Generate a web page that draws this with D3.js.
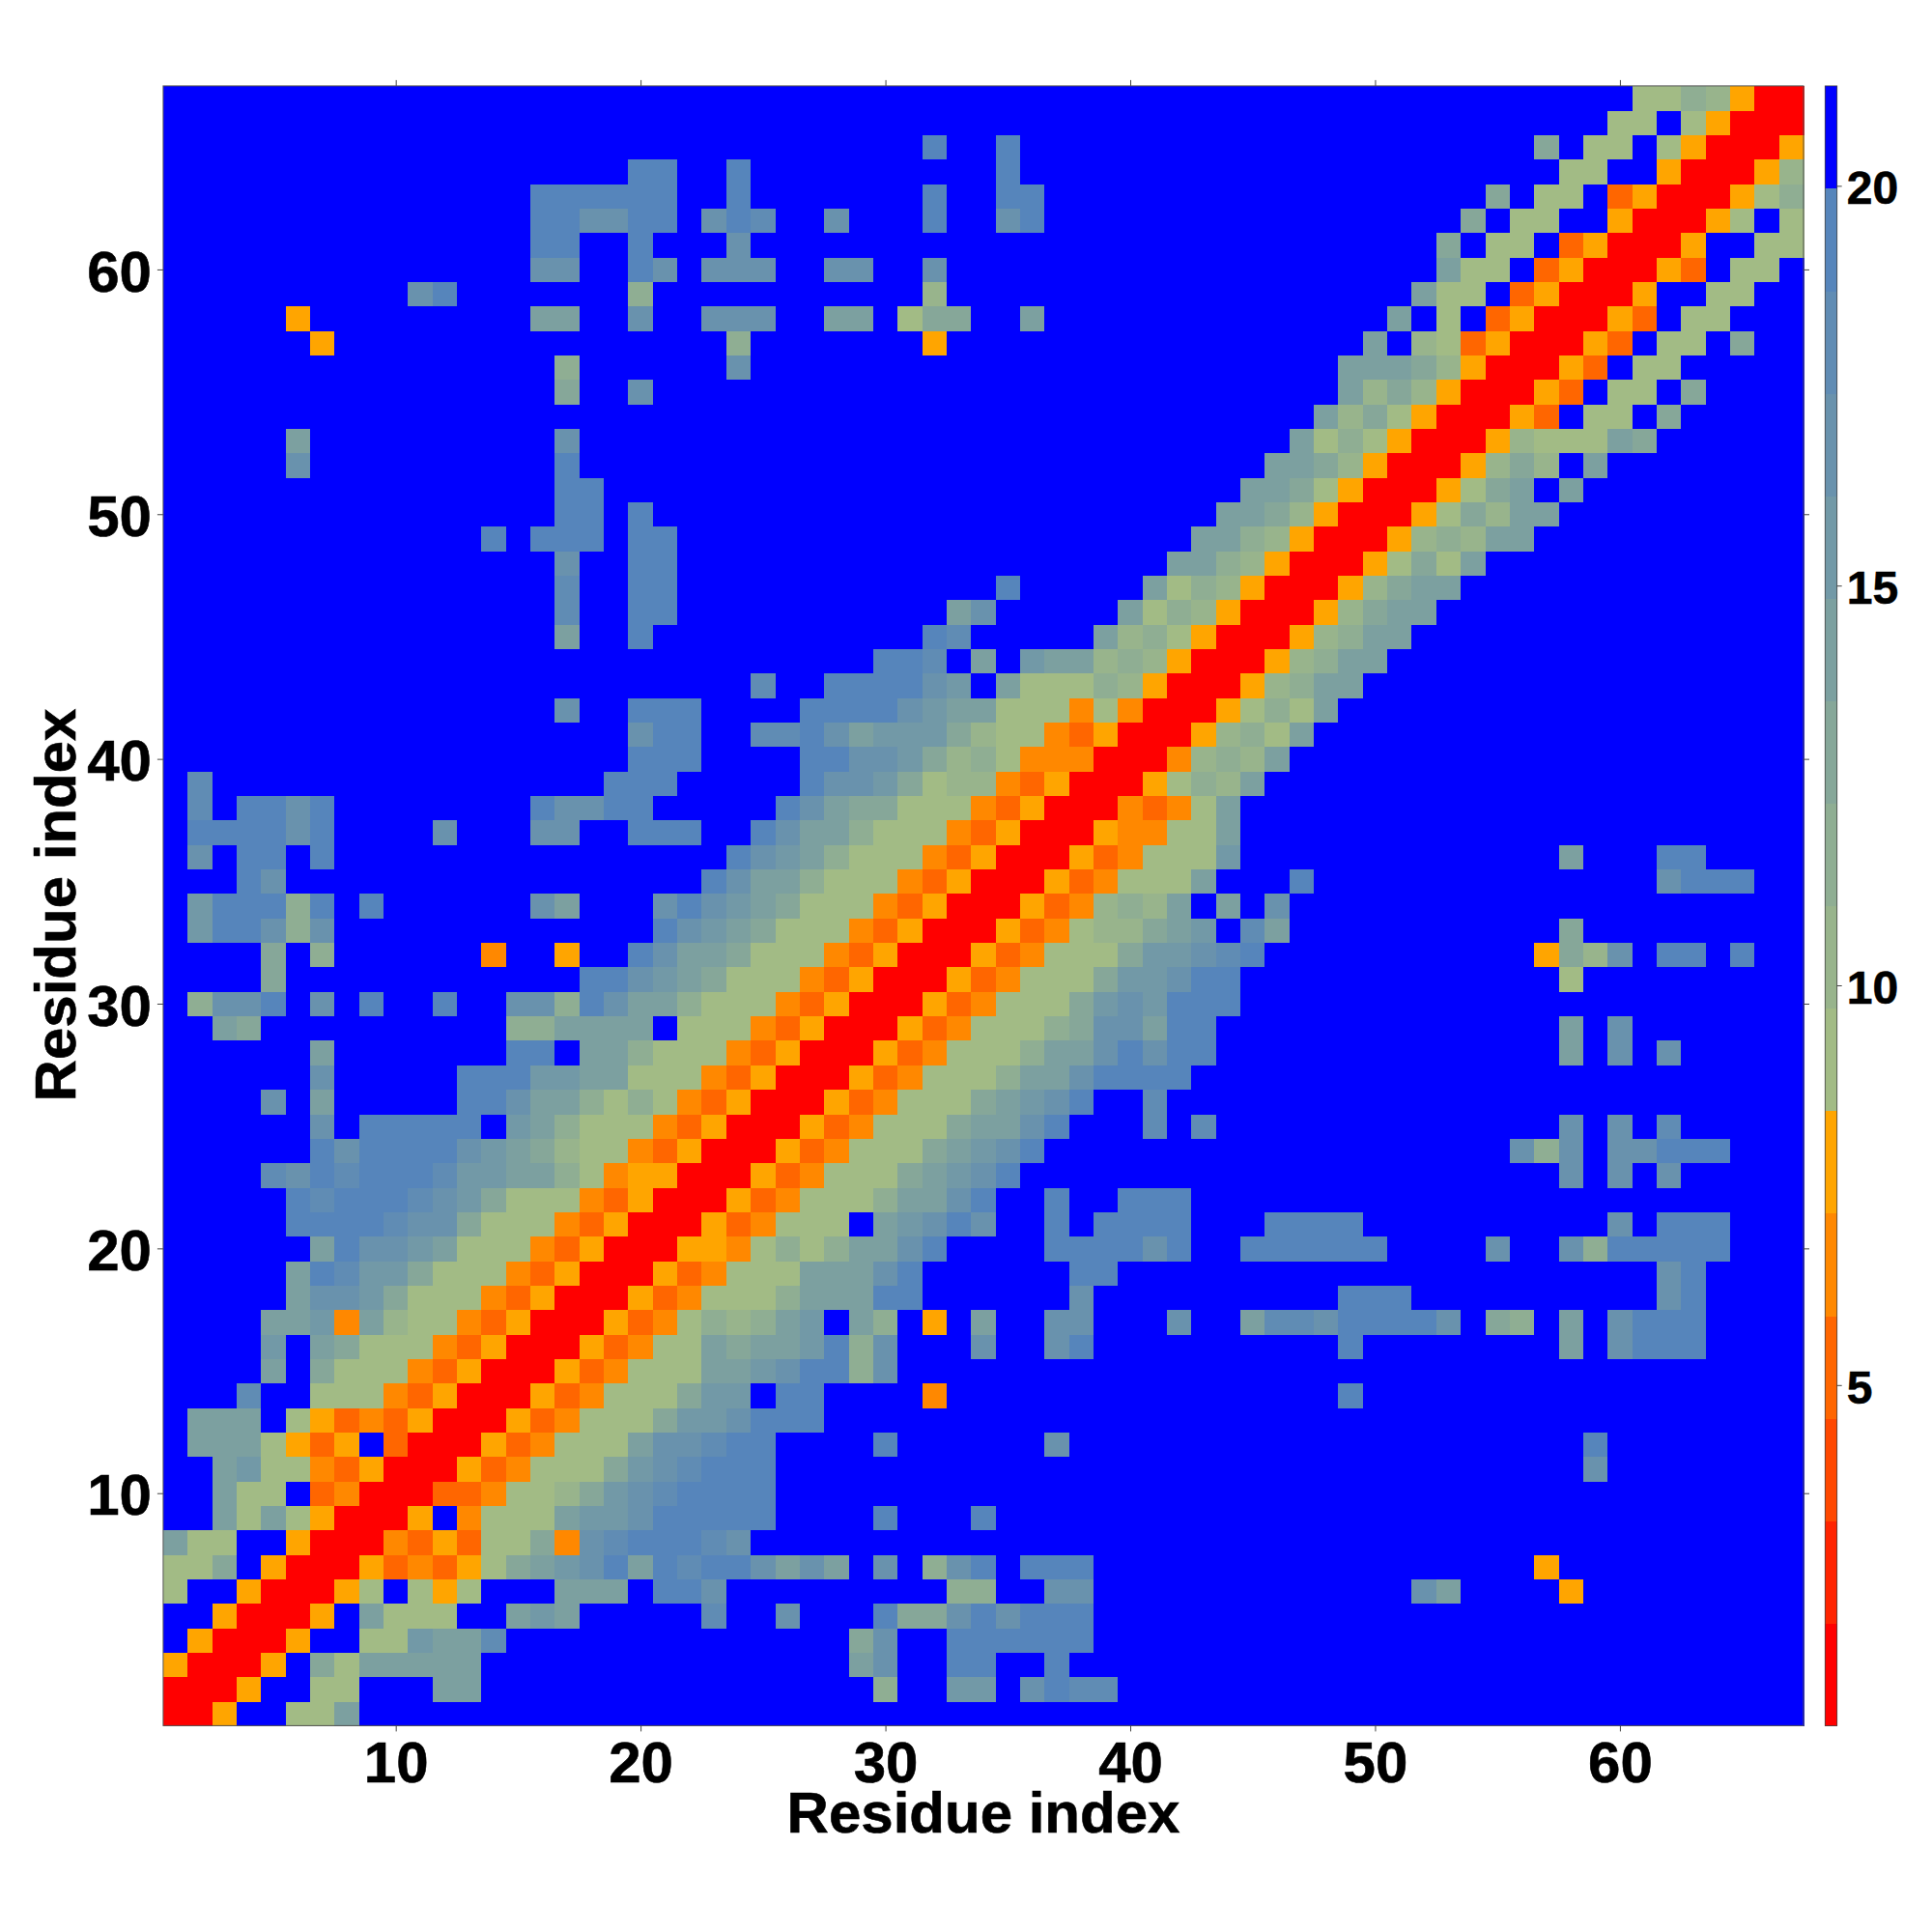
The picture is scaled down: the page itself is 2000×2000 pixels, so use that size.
<!DOCTYPE html>
<html>
<head>
<meta charset="utf-8">
<script src="https://cdnjs.cloudflare.com/ajax/libs/d3/7.8.5/d3.min.js"></script>
<style>
html,body{margin:0;padding:0;background:#fff;}
text{font-family:"Liberation Sans",Arial,sans-serif;font-weight:bold;fill:#000;stroke:#000;stroke-width:0.6px;}
.domain{display:none;}
.tick line{stroke:#444;stroke-width:1;}
</style>
</head>
<body>
<div id="chart"></div>
<script>
// Residue count and axis ticks
const residueCount = 67;
const axisTicks = [10, 20, 30, 40, 50, 60];
const colorTicks = [5, 10, 15, 20];
const axisTitle = "Residue index";

// Colour bands of the distance key, lowest to highest
const bandEdges = [0.74, 21.25];
const bandColors = ["#ff0000","#ff2400","#ff4800","#ff6600","#ff8800","#ffa500",
  "#a2bb85","#98b48c","#8fae93","#86a799","#7ca0a0","#7299a7","#6992ad","#608cb4","#5685bb","#0000ff"];
// Representative value read for each band (hex digit in the rows below)
const bandValues = [1.38,2.66,3.95,5.23,6.51,7.79,9.07,10.35,11.64,12.92,14.2,15.48,16.76,18.04,19.33,20.61];

// Symmetric map: upper triangle per residue row, as "startResidue:bands" runs; anything unlisted is band f
const rows = [
"1:005 6:66a",
"2:005 7:66 12:aa 30:8 33:bb 36:cedd",
"3:005f96aaaaa 29:ac 33:ee 37:e",
"4:005ff66baad 29:9c 33:eeeeee",
"5:005fa666ffaba 23:d 26:c 30:e99ceceee",
"6:0056f656fffaaafeec 33:88 37:cc 52:ca 58:5",
"7:005343569abceaedeecacafcf8cefeee 57:5",
"8:0043536694cdeeedc",
"9:005f4666abbceeeee 30:e 34:e",
"10:003346679bcdeeee",
"11:005346669bcdeee 59:c",
"12:00534666accdee 30:e 37:c 59:e",
"13:005346669bbceee",
"14:005346669bbfee 32:4 49:e",
"15:00534666aabcee8c",
"16:0053466a9aabe8c 34:c 37:ce 49:e 58:a 60:ceee",
"17:005346878abfa8f5faffcc 42:c 45:addceeeec 55:98 58:a 60:ceee",
"18:005346668aaaee 38:c 49:eee 62:ce",
"19:00534666aaace 38:ee 62:ce",
"20:005546868aace 37:eeeece 45:eeeeee 55:c 58:c8eeeee",
"21:00534666fabcec 37:e 39:eeee 46:eeee 60:c 62:eee",
"22:005346668aace 37:e 40:eee",
"23:005346669abce 58:c 60:c 62:c",
"24:005346669abce 56:c8c 60:cceee",
"25:005346669aace 41:d 43:d 58:c 60:c 62:d",
"26:005346669abce 41:d",
"27:005346668aaceeee",
"28:005346668aacecee 58:a 60:c 62:c",
"29:0053466689ccaee 58:a 60:c",
"30:005346669bcbeee",
"31:005346669bbcee 58:6",
"32:005346669bbcde 57:597c 62:ee 65:e",
"33:005346779abfda 58:9",
"34:00534787afafc",
"35:00534666a 47:e 62:ceee",
"36:00534666b 58:a 62:ee",
"37:0054466a",
"38:004346a",
"39:005687a",
"40:004787a",
"41:005786a",
"42:005686a",
"43:00578aa",
"44:00578aa",
"45:00578aa",
"46:00579aa",
"47:00579aa",
"48:005696a",
"49:005787aa",
"50:005697aa",
"51:00569afa",
"52:005797fa",
"53:0057666a9",
"54:0053f66f9",
"55:0053f66f9",
"56:0053f66",
"57:0053f66f9",
"58:0053f66",
"59:005ff66",
"60:0053f66",
"61:005ff66",
"62:0056f6",
"63:00568",
"64:0057",
"65:005",
"66:00",
"67:0"
];

// Decode into a full symmetric matrix of values
const matrix = d3.range(residueCount).map(() => d3.range(residueCount).map(() => bandValues[15]));
rows.forEach((row, r) => {
  row.split(" ").forEach(run => {
    const [start, bands] = run.split(":");
    [...bands].forEach((ch, k) => {
      const c = +start - 1 + k;
      const v = bandValues[parseInt(ch, 16)];
      matrix[r][c] = v;
      matrix[c][r] = v;
    });
  });
});
const cells = [];
matrix.forEach((line, r) => line.forEach((v, c) => cells.push({x: c + 1, y: r + 1, v})));

const W = 2000, H = 2000;
const plot = {left: 168.9, right: 1867, top: 88.9, bottom: 1786.4};
const bar = {left: 1889.3, right: 1901.7};

const x = d3.scaleLinear().domain([0.5, residueCount + 0.5]).range([plot.left, plot.right]);
const y = d3.scaleLinear().domain([0.5, residueCount + 0.5]).range([plot.bottom, plot.top]);
const color = d3.scaleQuantize().domain(bandEdges).range(bandColors);
const cv = d3.scaleLinear().domain(bandEdges).range([plot.bottom, plot.top]);

const svg = d3.select("#chart").append("svg").attr("width", W).attr("height", H)
  .style("display", "block");

svg.append("g").attr("shape-rendering", "crispEdges").selectAll("rect").data(cells).join("rect")
  .attr("x", d => x(d.x - 0.5))
  .attr("y", d => y(d.y + 0.5))
  .attr("width", d => x(d.x + 0.5) - x(d.x - 0.5) + 0.5)
  .attr("height", d => y(d.y - 0.5) - y(d.y + 0.5) + 0.5)
  .attr("fill", d => color(d.v));

svg.append("rect")
  .attr("x", plot.left).attr("y", plot.top)
  .attr("width", plot.right - plot.left).attr("height", plot.bottom - plot.top)
  .attr("fill", "none").attr("stroke", "#555").attr("stroke-width", 1);

const fmt = d3.format("d");
const gx = svg.append("g").attr("transform", `translate(0,${plot.bottom})`)
  .call(d3.axisBottom(x).tickValues(axisTicks).tickFormat(fmt).tickSize(6).tickPadding(10));
gx.selectAll("text").style("font-size", "60px");
svg.append("g").attr("transform", `translate(0,${plot.top})`)
  .call(d3.axisTop(x).tickValues(axisTicks).tickFormat("").tickSize(6));
const gy = svg.append("g").attr("transform", `translate(${plot.left},0)`)
  .call(d3.axisLeft(y).tickValues(axisTicks).tickFormat(fmt).tickSize(6).tickPadding(6));
gy.selectAll("text").style("font-size", "60px").attr("dy", "0.37em");
svg.append("g").attr("transform", `translate(${plot.right},0)`)
  .call(d3.axisRight(y).tickValues(axisTicks).tickFormat("").tickSize(6));

svg.append("text").text(axisTitle).attr("x", 1018).attr("y", 1897)
  .attr("text-anchor", "middle").style("font-size", "60px");
svg.append("text").text(axisTitle)
  .attr("transform", "translate(78,937) rotate(-90)")
  .attr("text-anchor", "middle").style("font-size", "60px");

// Colour key
const bandStep = (bandEdges[1] - bandEdges[0]) / bandColors.length;
svg.append("g").attr("shape-rendering", "crispEdges").selectAll("rect")
  .data(bandColors).join("rect")
  .attr("x", bar.left)
  .attr("y", (d, i) => cv(bandEdges[0] + bandStep * (i + 1)))
  .attr("width", bar.right - bar.left)
  .attr("height", (d, i) => cv(bandEdges[0] + bandStep * i) - cv(bandEdges[0] + bandStep * (i + 1)) + 0.5)
  .attr("fill", d => d);
svg.append("rect")
  .attr("x", bar.left).attr("y", plot.top)
  .attr("width", bar.right - bar.left).attr("height", plot.bottom - plot.top)
  .attr("fill", "none").attr("stroke", "#444").attr("stroke-width", 0.8);
const gc = svg.append("g").attr("transform", `translate(${bar.right},0)`)
  .call(d3.axisRight(cv).tickValues(colorTicks).tickFormat(fmt).tickSize(5).tickPadding(5));
gc.selectAll("text").style("font-size", "48px").attr("dy", "0.38em");
</script>
</body>
</html>
